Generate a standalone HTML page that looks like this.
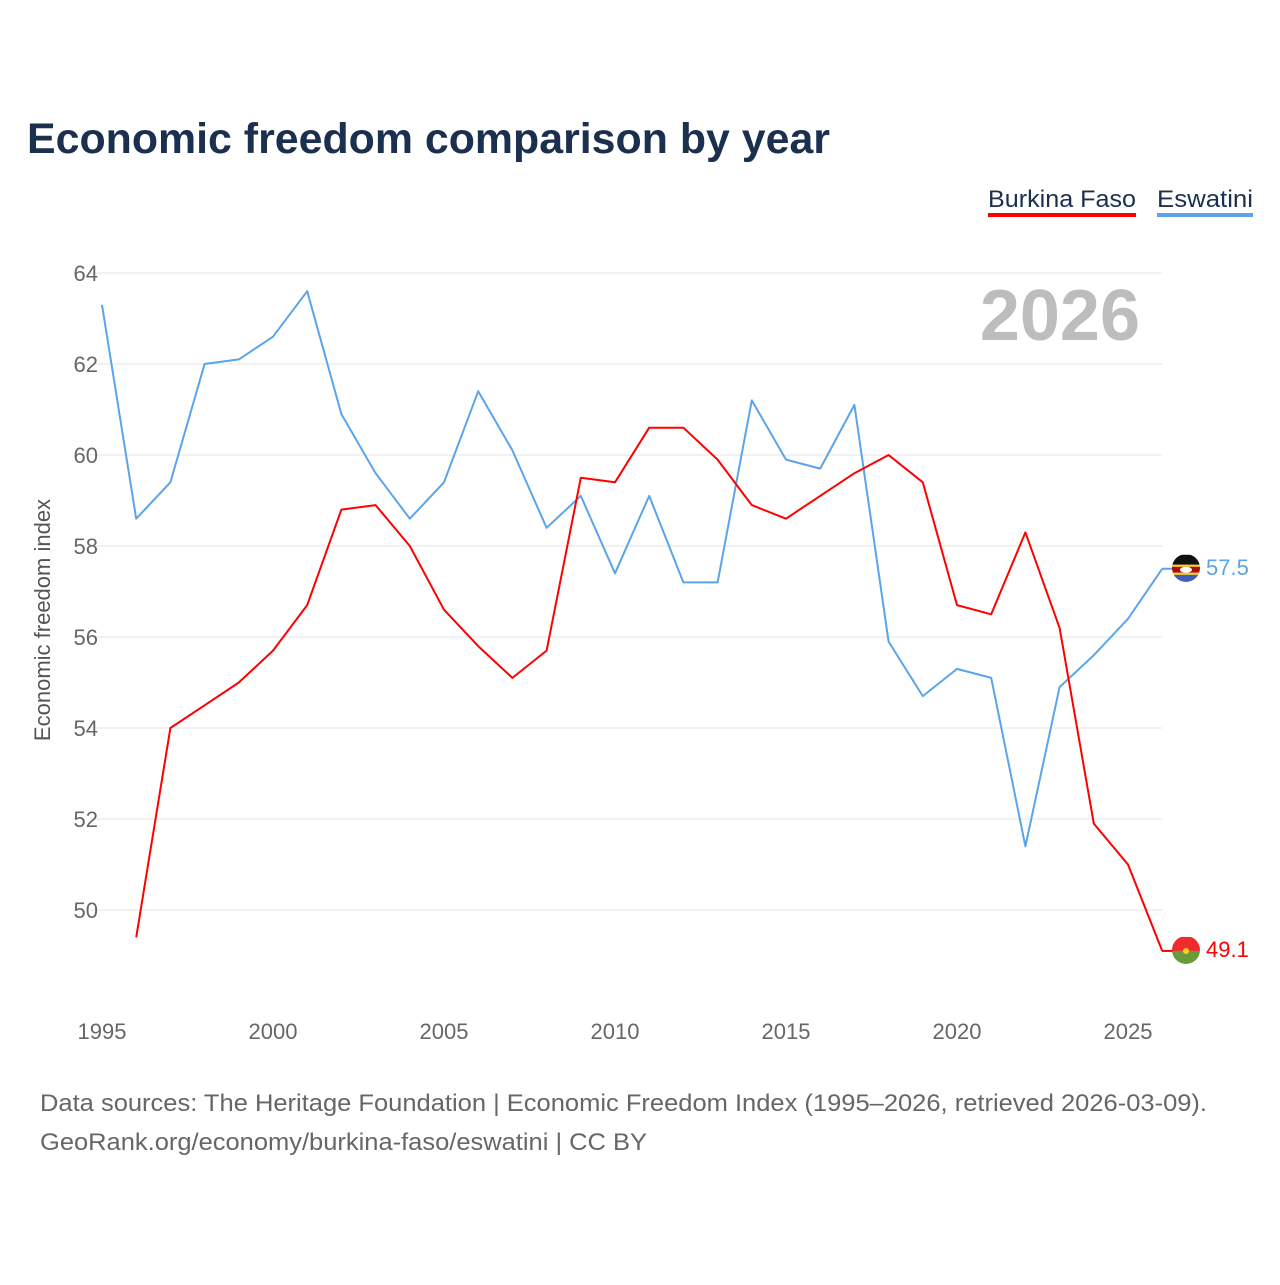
<!DOCTYPE html>
<html><head><meta charset="utf-8"><style>
body{margin:0;background:#fff;font-family:"Liberation Sans",sans-serif}
svg text{font-family:"Liberation Sans",sans-serif}
</style></head><body>
<svg id="chart" width="1280" height="1280">
<defs>
<clipPath id="clipE"><circle cx="1186" cy="568" r="14"/></clipPath>
<clipPath id="clipB"><circle cx="1186" cy="950" r="14"/></clipPath>
</defs>
<text x="27" y="153" font-size="43" font-weight="bold" fill="#1b2f4e" textLength="803" lengthAdjust="spacingAndGlyphs">Economic freedom comparison by year</text>
<g>
<text x="988" y="207" font-size="24" fill="#1b2f4e" textLength="148" lengthAdjust="spacingAndGlyphs">Burkina Faso</text>
<rect x="988" y="213" width="148" height="4" fill="#ff0000"/>
<text x="1157" y="207" font-size="24" fill="#1b2f4e" textLength="96" lengthAdjust="spacingAndGlyphs">Eswatini</text>
<rect x="1157" y="213" width="96" height="4" fill="#5ba4ea"/>
</g>
<text x="1140" y="340" font-size="72" font-weight="bold" fill="#bdbdbd" text-anchor="end">2026</text>
<g id="grid"></g><g id="ylab"></g><g id="xlab"></g><g id="lines"></g>
<text transform="translate(50,620) rotate(-90)" font-size="22" fill="#555" text-anchor="middle">Economic freedom index</text>
<text x="40" y="1111" font-size="24" fill="#666" textLength="1167" lengthAdjust="spacingAndGlyphs">Data sources: The Heritage Foundation | Economic Freedom Index (1995–2026, retrieved 2026-03-09).</text>
<text x="40" y="1150" font-size="24" fill="#666" textLength="607" lengthAdjust="spacingAndGlyphs">GeoRank.org/economy/burkina-faso/eswatini | CC BY</text>
</svg>
<script>
const years=[];for(let y=1995;y<=2026;y++)years.push(y);
const eswatini=[63.3,58.6,59.4,62.0,62.1,62.6,63.6,60.9,59.6,58.6,59.4,61.4,60.1,58.4,59.1,57.4,59.1,57.2,57.2,61.2,59.9,59.7,61.1,55.9,54.7,55.3,55.1,51.4,54.9,55.6,56.4,57.5];
const burkina=[null,49.4,54.0,54.5,55.0,55.7,56.7,58.8,58.9,58.0,56.6,55.8,55.1,55.7,59.5,59.4,60.6,60.6,59.9,58.9,58.6,59.1,59.6,60.0,59.4,56.7,56.5,58.3,56.2,51.9,51.0,49.1];
const yTicks=[50,52,54,56,58,60,62,64];
const xTicks=[1995,2000,2005,2010,2015,2020,2025];
const X=y=>102+(y-1995)*34.2;
const Y=v=>273+(64-v)*45.5;
const NS="http://www.w3.org/2000/svg";
function mk(tag,attrs,parent){const e=document.createElementNS(NS,tag);for(const k in attrs)e.setAttribute(k,attrs[k]);(typeof parent==='string'?document.getElementById(parent):parent).appendChild(e);return e;}
yTicks.forEach(v=>{
 const l=mk('line',{x1:90,x2:1162,y1:Y(v),y2:Y(v),stroke:'#e6e6e6','stroke-width':1},'grid');
 
 
 const t=mk('text',{x:98,y:Y(v)+8,'font-size':22,fill:'#666','text-anchor':'end'},'ylab');
 t.textContent=v;
 
 
});
xTicks.forEach(v=>{
 const t=mk('text',{x:X(v),y:1039,'font-size':22,fill:'#666','text-anchor':'middle'},'xlab');
 t.textContent=v;
 
 
});
function draw(vals,color,name){
 const pts=[];vals.forEach((v,i)=>{if(v!=null)pts.push(X(years[i]).toFixed(1)+','+Y(v).toFixed(1));});
 const p=mk('polyline',{points:pts.join(' '),fill:'none',stroke:color,'stroke-width':2,'stroke-linejoin':'round'},'lines');
 
 
 const last=vals[vals.length-1];const cy=Y(last);
 mk('line',{x1:1162,x2:1178,y1:cy,y2:cy,stroke:color,'stroke-width':2},'lines');
 const g=mk('g',{'clip-path':name==='eswatini'?'url(#clipE)':'url(#clipB)'},'lines');
 
 
 if(name==='eswatini'){
  mk('rect',{x:1172,y:cy-14,width:28,height:10,fill:'#111'},g);
  mk('rect',{x:1172,y:cy-4,width:28,height:2,fill:'#ffd900'},g);
  mk('rect',{x:1172,y:cy-2,width:28,height:6,fill:'#b10c0c'},g);
  mk('rect',{x:1172,y:cy+4,width:28,height:2,fill:'#ffd900'},g);
  mk('rect',{x:1172,y:cy+6,width:28,height:8,fill:'#3e5eb9'},g);
  mk('ellipse',{cx:1186,cy:cy+1,rx:6,ry:3,fill:'#fff'},g);
 } else {
  mk('rect',{x:1172,y:cy-14,width:28,height:14,fill:'#ef2b2d'},g);
  mk('rect',{x:1172,y:cy,width:28,height:14,fill:'#6a9b3a'},g);
  mk('circle',{cx:1186,cy:cy,r:3,fill:'#fcd116'},g);
 }
 const t=mk('text',{x:1206,y:cy+6,'font-size':22,fill:color},'lines');
 t.textContent=last.toFixed(1);
 
 
}
draw(eswatini,'#5ba4ea','eswatini');
draw(burkina,'#ff0000','burkina-faso');
</script>
</body></html>
